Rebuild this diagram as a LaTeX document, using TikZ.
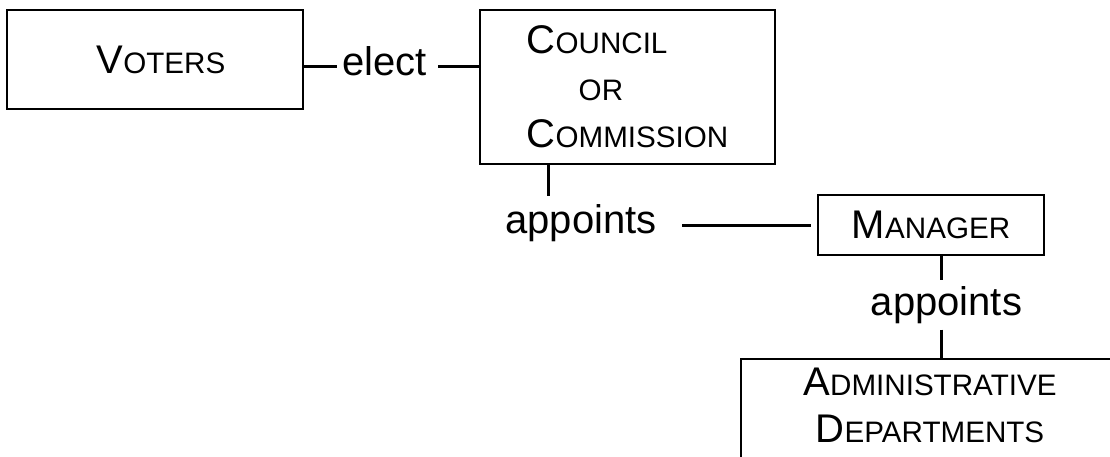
\documentclass[tikz,border=0pt]{standalone}
\usepackage{fontspec}
\setmainfont{Liberation Sans}
\usetikzlibrary{positioning}
\newcommand\fsc[1]{{\fontsize{14.8}{23.5}\selectfont #1}}

\begin{document}
\begin{tikzpicture}[x=0.5pt, y=-0.5pt, font=\fontsize{20}{23.5}\selectfont]
    \tikzset{
        mybox/.style = {rectangle, draw=black, line width=0.8pt, fill=white, inner sep=0pt},
        lbl/.style = {anchor=base, inner xsep=2.5pt, inner ysep=4pt},
        link/.style = {line width=1.5pt},
    }
    \useasboundingbox (0,0) rectangle (1110,456);
    \clip (0,0) rectangle (1110,456);

    \node (voters) [mybox, minimum width=148pt, minimum height=49.5pt] at (155,59.5) {\hspace*{6pt}V\fsc{OTERS}};
    \node (council) [mybox, minimum width=147.5pt, minimum height=77pt, align=left] at (627.5,87) {C\fsc{OUNCIL}\\\hspace*{26pt}\fsc{OR}\\C\fsc{OMMISSION}};
    \node (manager) [mybox, minimum width=113pt, minimum height=30pt] at (931,225) {M\fsc{ANAGER}};
    \node (admin) [mybox, anchor=north, minimum width=189pt, inner ysep=4.5pt, text depth=25pt, align=center] at (930,358) {A\fsc{DMINISTRATIVE}\\D\fsc{EPARTMENTS}};

    \node (elect) [lbl] at (384.5,75) {elect};
    \node (appA) [lbl] at (581,233) {appoints};
    \node (appB) [lbl, inner ysep=3pt] at (946.5,315) {appoints};

    \coordinate (ey) at (0,66.7);
    \draw [link] (voters.east |- ey) -- (elect.west |- ey);
    \draw [link] ([xshift=3pt]elect.east |- ey) -- (council.west |- ey);

    \draw [link] ([xshift=-16.5pt]appA.north) -- ([xshift=-16.5pt]appA.north |- council.south);
    \draw [link] ([xshift=10pt]appA.east |- manager.west) -- ([xshift=-3pt]manager.west);

    \draw [link] ([xshift=-2.4pt]appB.north) -- ([xshift=-2.4pt]appB.north |- manager.south);
    \draw [link] ([xshift=-2.4pt]appB.south) -- ([xshift=-2.4pt]appB.south |- admin.north);
\end{tikzpicture}
\end{document}
